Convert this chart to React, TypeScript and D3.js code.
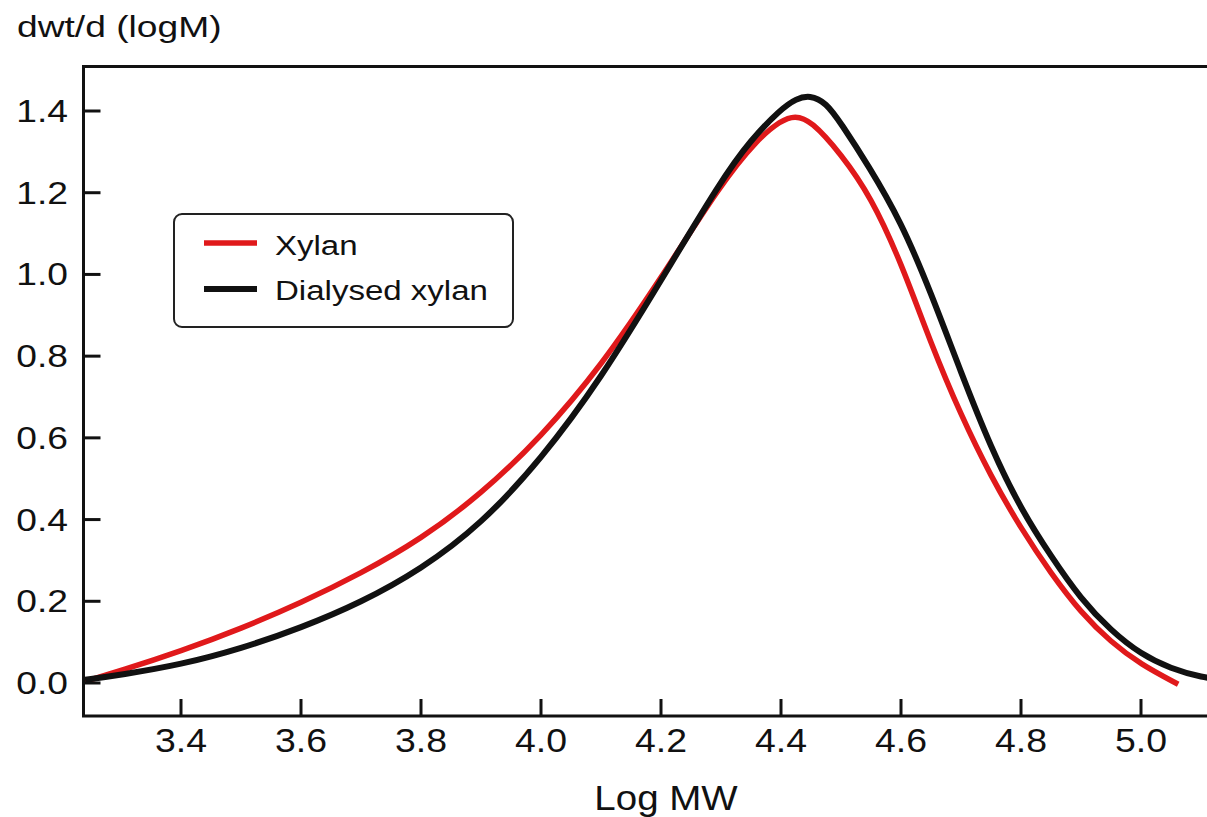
import React from "react";
import * as d3 from "d3";

const xTicks = [3.4, 3.6, 3.8, 4.0, 4.2, 4.4, 4.6, 4.8, 5.0];
const yTicks = [0.0, 0.2, 0.4, 0.6, 0.8, 1.0, 1.2, 1.4];

const xylan: [number, number][] = [
  [3.24, 0.004], [3.3, 0.03], [3.4, 0.078], [3.5, 0.133], [3.6, 0.196], [3.7, 0.268],
  [3.8, 0.352], [3.9, 0.462], [4.0, 0.602], [4.1, 0.775], [4.2, 0.99],
  [4.3, 1.222], [4.36, 1.33], [4.4, 1.377], [4.423, 1.389], [4.45, 1.377],
  [4.5, 1.295], [4.55, 1.19], [4.6, 1.03], [4.65, 0.83], [4.7, 0.655], [4.75, 0.505],
  [4.8, 0.378], [4.85, 0.268], [4.9, 0.172], [4.95, 0.1], [5.0, 0.045],
  [5.062, -0.003],
];

const dialysed: [number, number][] = [
  [3.24, 0.008], [3.3, 0.02], [3.4, 0.045], [3.5, 0.084], [3.6, 0.135], [3.7, 0.197],
  [3.8, 0.278], [3.9, 0.388], [4.0, 0.547], [4.1, 0.745], [4.2, 0.985],
  [4.3, 1.23], [4.35, 1.33], [4.4, 1.405], [4.425, 1.43], [4.448, 1.439],
  [4.475, 1.421], [4.5, 1.37], [4.545, 1.268], [4.6, 1.13], [4.65, 0.955],
  [4.7, 0.76], [4.75, 0.575], [4.8, 0.425], [4.85, 0.31], [4.9, 0.205],
  [4.95, 0.128], [5.0, 0.07], [5.05, 0.035], [5.1, 0.014], [5.15, 0.005],
];

const series = [
  { name: "Xylan", data: xylan, color: "#e0191b", width: 5.5 },
  { name: "Dialysed xylan", data: dialysed, color: "#111111", width: 6 },
];

const FONT = "'Liberation Sans', Arial, sans-serif";

export default function App() {
  const left = 83.5, top = 66.5, bottom = 716;
  const x = d3.scaleLinear().domain([3.4, 5.0]).range([181, 1141]);
  const y = d3.scaleLinear().domain([0, 1.4]).range([683, 111]);
  const right = 1215;
  const line = d3
    .line<[number, number]>()
    .x((d) => x(d[0]))
    .y((d) => y(d[1]))
    .curve(d3.curveBasis);

  return (
    <svg
      width={1207}
      height={817}
      style={{ position: "absolute", left: 0, top: 0, background: "#fff" }}
      fontFamily={FONT}
    >
      <defs>
        <clipPath id="plot">
          <rect x={left} y={top} width={right - left} height={bottom - top} />
        </clipPath>
      </defs>
      <text x={17} y={37} fontSize={30} fill="#111" transform="translate(17,37) scale(1.24,1) translate(-17,-37)">
        dwt/d (logM)
      </text>

      <g clipPath="url(#plot)">
        {series.map((s) => (
          <path key={s.name} d={line(s.data) || ""} fill="none" stroke={s.color} strokeWidth={s.width} strokeLinecap="butt" />
        ))}
      </g>

      <path
        d={`M${right},${top} L${left},${top} L${left},${bottom} L${right},${bottom}`}
        fill="none"
        stroke="#111"
        strokeWidth={3}
      />

      {xTicks.map((t) => (
        <g key={"x" + t}>
          <line x1={x(t)} x2={x(t)} y1={bottom} y2={bottom - 17} stroke="#111" strokeWidth={3} />
          <text
            x={x(t)}
            y={752}
            fontSize={34}
            textAnchor="middle"
            fill="#111"
            transform={`translate(${x(t)},752) scale(1.1,1) translate(${-x(t)},-752)`}
          >
            {t.toFixed(1)}
          </text>
        </g>
      ))}

      {yTicks.map((t) => (
        <g key={"y" + t}>
          <line x1={left} x2={left + 17} y1={y(t)} y2={y(t)} stroke="#111" strokeWidth={3} />
          <text
            x={68}
            y={y(t) + 11}
            fontSize={31}
            textAnchor="end"
            fill="#111"
            transform={`translate(68,${y(t) + 11}) scale(1.2,1) translate(-68,${-(y(t) + 11)})`}
          >
            {t.toFixed(1)}
          </text>
        </g>
      ))}

      <text
        x={666}
        y={810}
        fontSize={35}
        textAnchor="middle"
        fill="#111"
        transform="translate(666,810) scale(1.1,1) translate(-666,-810)"
      >
        Log MW
      </text>

      <rect x={174} y={214} width={339} height={113} rx={8} ry={8} fill="#fff" stroke="#222" strokeWidth={2} />
      {series.map((s, i) => {
        const ly = i === 0 ? 243 : 289;
        const ty = i === 0 ? 255 : 300;
        return (
          <g key={"lg" + s.name}>
            <line x1={204} x2={257} y1={ly} y2={ly} stroke={s.color} strokeWidth={s.width} />
            <text
              x={275}
              y={ty}
              fontSize={28}
              fill="#111"
              transform={`translate(275,${ty}) scale(1.18,1) translate(-275,${-ty})`}
            >
              {s.name}
            </text>
          </g>
        );
      })}
    </svg>
  );
}
